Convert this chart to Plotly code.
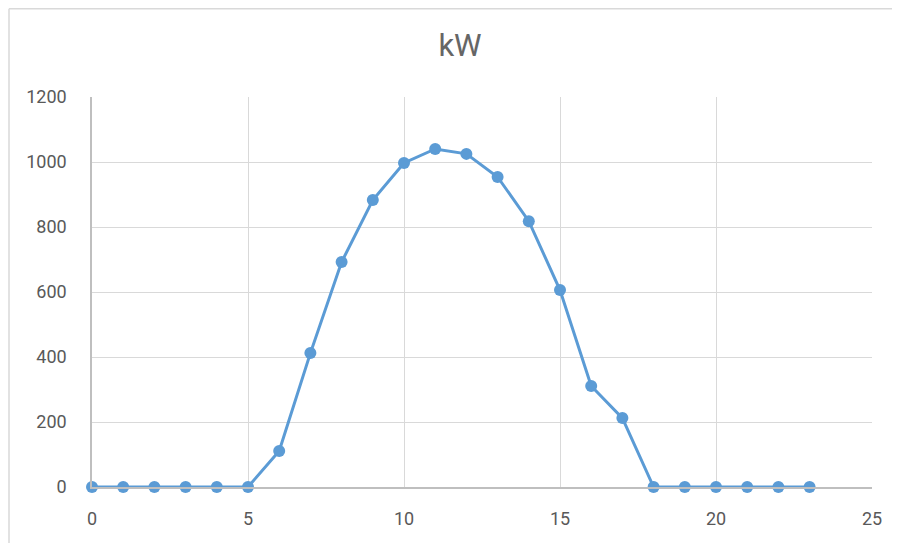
import plotly.graph_objects as go

hours = list(range(24))
kw = [0, 0, 0, 0, 0, 0, 111, 412, 692, 883, 997, 1040, 1025, 954, 818, 606, 311, 212, 0, 0, 0, 0, 0, 0]
x_ticks = [0, 5, 10, 15, 20, 25]
y_ticks = [0, 200, 400, 600, 800, 1000, 1200]

# page is offset by 8px body margin
W, H = 892, 535
L, T = 84, 89
PW, PH = 780, 390

fig = go.Figure()
fig.add_trace(go.Scatter(
    x=hours, y=kw, mode="lines+markers",
    line=dict(color="#5b9bd5", width=3),
    marker=dict(color="#5b9bd5", size=12),
    showlegend=False, cliponaxis=False,
))

bx0 = (1 - L) / PW
bx1 = (W + 20 - L) / PW
by0 = -(H + 20 - T - PH) / PH
by1 = 1 + (T - 0.75) / PH

fig.update_layout(
    width=W, height=H,
    margin=dict(l=L, r=W - L - PW, t=T, b=H - T - PH),
    paper_bgcolor="white", plot_bgcolor="white",
    font=dict(family="Roboto, Open Sans, sans-serif", color="#595959", size=18),
    title=dict(text="kW", x=452 / W, xanchor="center", y=1 - 37 / H, yanchor="middle",
               font=dict(size=31, color="#666666")),
    xaxis=dict(range=[0, 25], tickvals=x_ticks, showgrid=True, gridcolor="#d9d9d9",
               gridwidth=1, zeroline=False, showline=True, linecolor="#bfbfbf",
               linewidth=1.5, ticks="", ticklabelstandoff=15, automargin=False),
    yaxis=dict(range=[0, 1200], tickvals=y_ticks, showgrid=True, gridcolor="#d9d9d9",
               gridwidth=1, zeroline=False, showline=True, linecolor="#bfbfbf",
               linewidth=1.5, ticks="", ticklabelstandoff=20, automargin=False),
    shapes=[
        dict(type="line", xref="paper", yref="paper", x0=bx0, x1=bx0, y0=by0, y1=by1,
             line=dict(color="#d9d9d9", width=1.5), layer="below"),
        dict(type="line", xref="paper", yref="paper", x0=bx0, x1=bx1, y0=by1, y1=by1,
             line=dict(color="#d9d9d9", width=1.5), layer="below"),
    ],
)

fig.write_html("out.html")
